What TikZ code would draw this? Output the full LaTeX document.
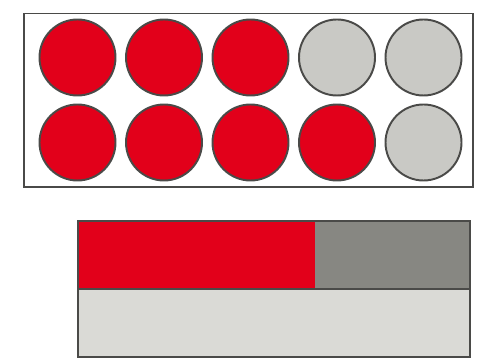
\documentclass[tikz,border=0pt]{standalone}
\usepackage{xcolor}
\usepackage{tikz}
\definecolor{FRRed}{HTML}{E2001A}
\definecolor{FRPale}{HTML}{C9C9C5}
\definecolor{FRDark}{HTML}{878782}
\definecolor{FRLight}{HTML}{DADAD6}
\definecolor{FRLine}{HTML}{4A4A48}
\begin{document}
\begin{tikzpicture}[x=1cm,y=1cm]
\path[use as bounding box] (0,0) rectangle (9.54,7.20);
\draw[FRLine,line width=1pt] (0.48,6.93) rectangle (9.46,3.46);
\filldraw[fill=FRRed,draw=FRLine,line width=1.1pt] (1.55,6.05) circle (0.76);
\filldraw[fill=FRRed,draw=FRLine,line width=1.1pt] (3.28,6.05) circle (0.76);
\filldraw[fill=FRRed,draw=FRLine,line width=1.1pt] (5.01,6.05) circle (0.76);
\filldraw[fill=FRPale,draw=FRLine,line width=1.1pt] (6.74,6.05) circle (0.76);
\filldraw[fill=FRPale,draw=FRLine,line width=1.1pt] (8.47,6.05) circle (0.76);
\filldraw[fill=FRRed,draw=FRLine,line width=1.1pt] (1.55,4.35) circle (0.76);
\filldraw[fill=FRRed,draw=FRLine,line width=1.1pt] (3.28,4.35) circle (0.76);
\filldraw[fill=FRRed,draw=FRLine,line width=1.1pt] (5.01,4.35) circle (0.76);
\filldraw[fill=FRRed,draw=FRLine,line width=1.1pt] (6.74,4.35) circle (0.76);
\filldraw[fill=FRPale,draw=FRLine,line width=1.1pt] (8.47,4.35) circle (0.76);
\fill[FRRed] (1.56,1.42) rectangle (6.30,2.78);
\fill[FRDark] (6.30,1.42) rectangle (9.40,2.78);
\fill[FRLight] (1.56,0.06) rectangle (9.40,1.42);
\draw[FRLine,line width=1.1pt] (1.56,1.42) -- (9.40,1.42);
\draw[FRLine,line width=1.1pt] (1.56,0.06) rectangle (9.40,2.78);
\end{tikzpicture}
\end{document}
